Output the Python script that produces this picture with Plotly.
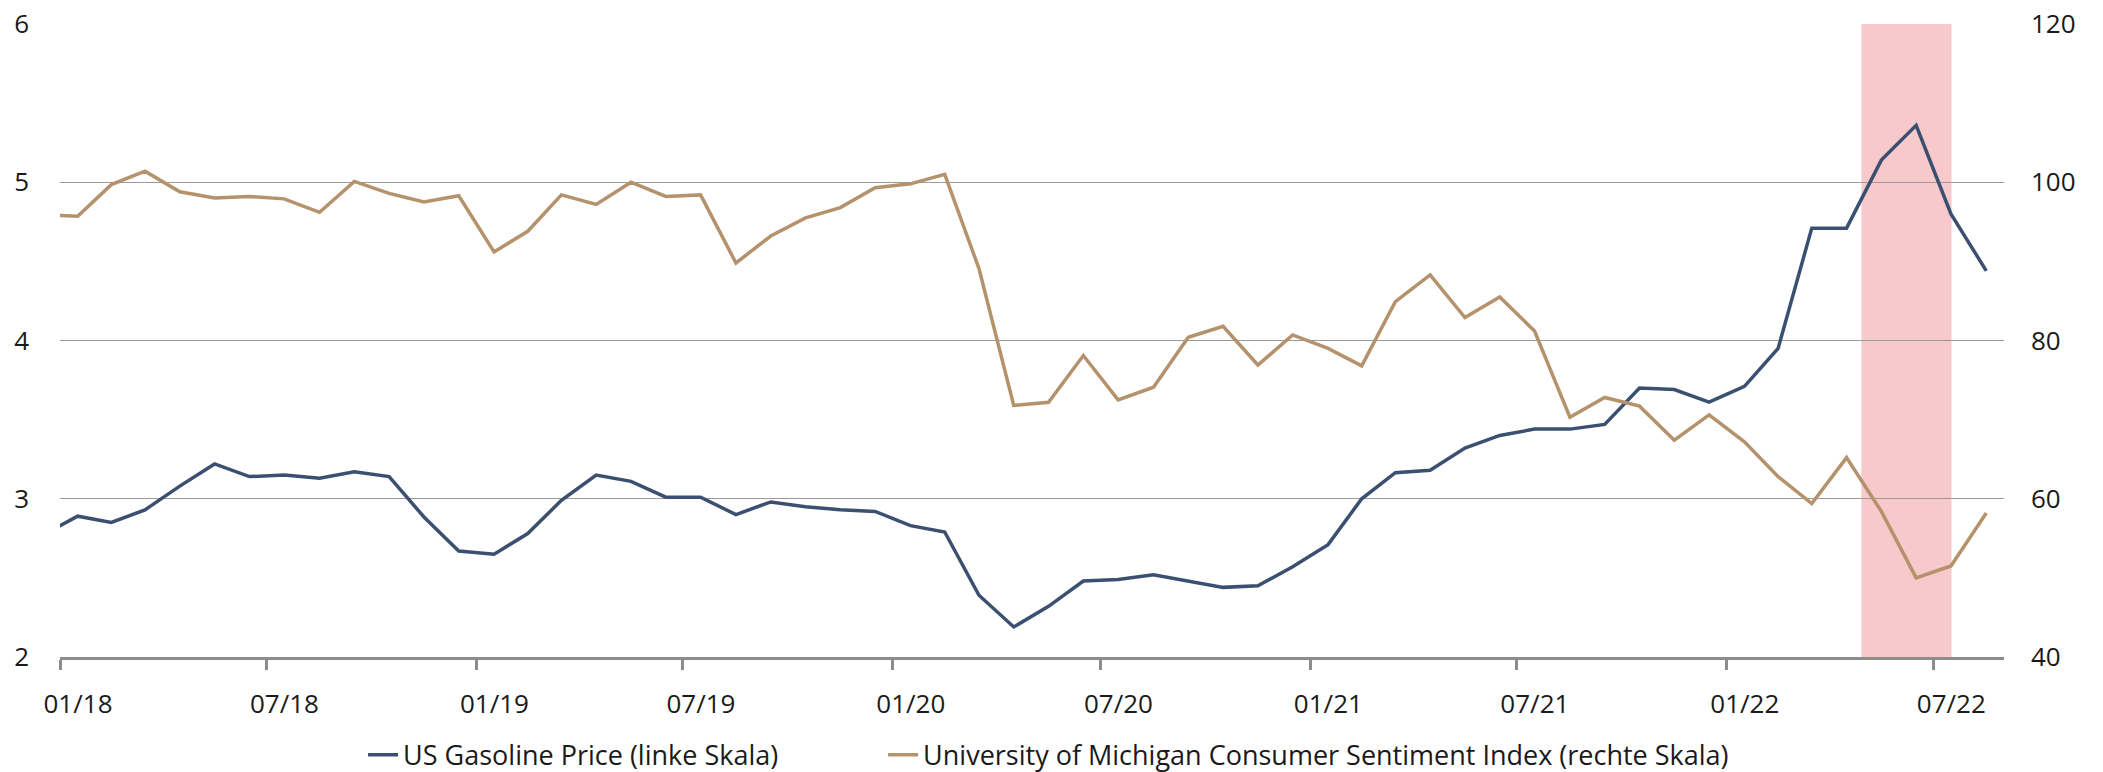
import pandas as pd
import plotly.graph_objects as go

# monthly values, Dec 2017 .. Aug 2022 (Dec 2017 only feeds the clipped edge)
gasoline = [2.77, 2.89, 2.85, 2.93, 3.08, 3.22, 3.14, 3.15, 3.13, 3.17, 3.14, 2.885, 2.67,
            2.65, 2.78, 2.99, 3.15, 3.11, 3.01, 3.01, 2.90, 2.98, 2.95, 2.93, 2.92,
            2.83, 2.79, 2.39, 2.19, 2.32, 2.48, 2.49, 2.52, 2.48, 2.44, 2.45, 2.57,
            2.71, 3.00, 3.165, 3.18, 3.32, 3.40, 3.44, 3.44, 3.47, 3.70, 3.69, 3.61,
            3.71, 3.95, 4.71, 4.71, 5.14, 5.36, 4.80, 4.44]
sentiment = [95.9, 95.7, 99.7, 101.4, 98.8, 98.0, 98.2, 97.9, 96.2, 100.1, 98.6, 97.5, 98.3,
             91.2, 93.8, 98.4, 97.2, 100.0, 98.2, 98.4, 89.8, 93.2, 95.5, 96.8, 99.3,
             99.8, 101.0, 89.1, 71.8, 72.2, 78.1, 72.5, 74.1, 80.4, 81.8, 76.9, 80.7,
             79.0, 76.8, 84.9, 88.3, 82.9, 85.5, 81.2, 70.3, 72.8, 71.7, 67.4, 70.6,
             67.2, 62.8, 59.4, 65.2, 58.4, 50.0, 51.5, 58.2]
tick_dates = ["2018-01-01", "2018-07-01", "2019-01-01", "2019-07-01", "2020-01-01",
              "2020-07-01", "2021-01-01", "2021-07-01", "2022-01-01", "2022-07-01"]
tick_labels = ["01/18", "07/18", "01/19", "07/19", "01/20",
               "07/20", "01/21", "07/21", "01/22", "07/22"]
shade = ["2022-04-29", "2022-07-17"]

starts = pd.date_range("2017-12-01", periods=len(gasoline) + 1, freq="MS")
mids = [(starts[i] + (starts[i + 1] - starts[i]) / 2) for i in range(len(gasoline))]

BLUE = "#3b5071"
BROWN = "#b4926b"
FONT = "Open Sans"

fig = go.Figure()
fig.add_trace(go.Scatter(x=mids, y=gasoline, mode="lines", name="US Gasoline Price (linke Skala)",
                         line=dict(color=BLUE, width=3.5), legend="legend"))
fig.add_trace(go.Scatter(x=mids, y=sentiment, mode="lines", yaxis="y2", legend="legend2",
                         name="University of Michigan Consumer Sentiment Index (rechte Skala)",
                         line=dict(color=BROWN, width=3.5)))

fig.add_vrect(x0=shade[0], x1=shade[1], y0=0, y1=1, fillcolor="#f7c9cb", opacity=1,
              line_width=0, layer="below")

leg = dict(orientation="h", xanchor="left", y=-0.155, yanchor="middle",
           font=dict(size=27), bgcolor="rgba(0,0,0,0)")
fig.update_layout(
    width=2103, height=772,
    margin=dict(l=60, r=99, t=24, b=115, autoexpand=False),
    plot_bgcolor="white", paper_bgcolor="white",
    font=dict(family=FONT, size=26, color="#1a1a1a"),
    showlegend=True,
    legend=dict(leg, x=0.1559),
    legend2=dict(leg, x=0.4234),
    xaxis=dict(type="date", range=["2018-01-01", "2022-09-01"], automargin=False,
               tickvals=tick_dates, ticktext=tick_labels, ticklabelshift=18,
               ticks="outside", ticklen=10, tickwidth=2.5, tickcolor="#8c8c8c",
               showline=True, linecolor="#8c8c8c", linewidth=2.5,
               showgrid=False, zeroline=False, ticklabelstandoff=12,
               ticklabeloverflow="allow"),
    yaxis=dict(range=[2, 6], dtick=1, showgrid=True, gridcolor="#9a9a9a", gridwidth=1.3,
               zeroline=False, showline=False, ticks="", ticklabelstandoff=30,
               automargin=False, ticklabeloverflow="allow"),
    yaxis2=dict(range=[40, 120], dtick=20, overlaying="y", side="right", showgrid=False,
                zeroline=False, showline=False, ticks="", ticklabelstandoff=26,
                automargin=False, ticklabeloverflow="allow"),
)

# drop the browser's default 8px body margin so the figure fills the window
fig.write_html("out.html", config={"displayModeBar": False},
               post_script="document.body.style.margin = '0px';")
